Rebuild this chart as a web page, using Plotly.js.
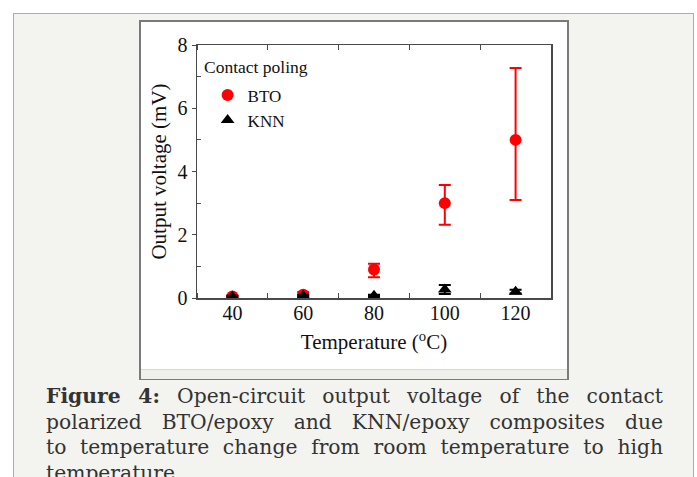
<!DOCTYPE html>
<html>
<head>
<meta charset="utf-8">
<script src="https://cdn.plot.ly/plotly-3.0.1.min.js"></script>
<style>
  html, body { margin: 0; padding: 0; background: #ffffff; }
  body { width: 697px; height: 477px; position: relative; overflow: hidden; }
  #frame { position: absolute; left: 13px; top: 13px; width: 681px; height: 480px;
           background: #f3f3ef; border-top: 1.5px solid #8db2e6; border-left: 1.5px solid #8db2e6;
           border-right: 1.5px solid #8db2e6; box-sizing: border-box; }
  #imgbox { position: absolute; left: 139px; top: 20px; width: 430px; height: 360px;
            background: #ffffff; border: 2px solid #7a7a7a; box-sizing: border-box; }
  #imgstrip { position: absolute; left: 141px; top: 369px; width: 426px; height: 9px;
              background: #efefeb; border-top: 1px solid #d8d8d4; }
  #chart { position: absolute; left: 0; top: 0; width: 697px; height: 477px; }
  #caption { position: absolute; left: 46px; top: 384px; width: 617px;
             font-family: "DejaVu Serif", serif; font-size: 20.3px; color: #333333; line-height: 25.7px; }
  #caption .ln span.j { display: block; text-align: justify; text-align-last: justify; white-space: normal; }
  #caption .last { text-align: left; }
</style>
</head>
<body>
<div id="frame"></div>
<div id="imgbox"></div>
<div id="imgstrip"></div>
<div id="chart"></div>
<div id="caption">
  <div class="ln"><span class="j"><b>Figure 4:</b> Open-circuit output voltage of the contact</span></div>
  <div class="ln"><span class="j">polarized BTO/epoxy and KNN/epoxy composites due</span></div>
  <div class="ln"><span class="j">to temperature change from room temperature to high</span></div>
  <div class="last">temperature.</div>
</div>
<script>
// Data
const temperatures = [40, 60, 80, 100, 120];
const btoVoltage   = [0.05, 0.10, 0.90, 3.00, 5.00];
const btoErrPlus   = [0.03, 0.09, 0.18, 0.57, 2.27];
const btoErrMinus  = [0.03, 0.10, 0.24, 0.68, 1.90];
const knnVoltage   = [0.05, 0.07, 0.07, 0.27, 0.20];
const knnErrPlus   = [0.02, 0.03, 0.03, 0.14, 0.06];
const knnErrMinus  = [0.02, 0.03, 0.03, 0.14, 0.06];
const xTickVals = [40, 60, 80, 100, 120];
const yTickVals = [0, 2, 4, 6, 8];

const serif = "Liberation Serif, Times New Roman, serif";
const axisColor = "#4a4a4a";

const traces = [
  {
    type: "scatter", mode: "markers", name: "BTO",
    x: temperatures, y: btoVoltage,
    marker: { symbol: "circle", size: 12, color: "#ff0000" },
    error_y: { type: "data", symmetric: false, array: btoErrPlus, arrayminus: btoErrMinus,
               color: "#ff0000", thickness: 2, width: 6 }
  },
  {
    type: "scatter", mode: "markers", name: "KNN",
    x: temperatures, y: knnVoltage,
    marker: { symbol: "triangle-up", size: 12, color: "#000000" },
    error_y: { type: "data", symmetric: false, array: knnErrPlus, arrayminus: knnErrMinus,
               color: "#000000", thickness: 2, width: 6 }
  }
];

const layout = {
  width: 697, height: 477,
  margin: { l: 197, r: 146, t: 45, b: 179, pad: 0 },
  paper_bgcolor: "rgba(0,0,0,0)",
  plot_bgcolor: "#ffffff",
  font: { family: serif, color: "#111111", size: 20 },
  showlegend: true,
  legend: {
    x: 0.03, y: 0.872, xanchor: "left", yanchor: "top",
    bgcolor: "rgba(0,0,0,0)", borderwidth: 0,
    font: { family: serif, size: 17, color: "#111111" },
    itemwidth: 30
  },
  xaxis: {
    range: [30, 130],
    tickvals: xTickVals, ticktext: xTickVals.map(String),
    ticks: "", showgrid: false, zeroline: false,
    showline: true, linecolor: axisColor, linewidth: 1.5, mirror: "ticks",
    minor: { ticks: "inside", ticklen: 5, tickcolor: axisColor, tickwidth: 1, tick0: 50, dtick: 20, showgrid: false },
    tickfont: { family: serif, size: 20, color: "#111111" },
    ticklabelstandoff: -4,
    title: { text: "Temperature (<sup>o</sup>C)", font: { family: serif, size: 21, color: "#111111" }, standoff: 12 },
    fixedrange: true
  },
  yaxis: {
    range: [0, 8],
    tickvals: yTickVals, ticktext: yTickVals.map(String),
    ticks: "outside", ticklen: 4, tickcolor: axisColor, tickwidth: 1,
    showgrid: false, zeroline: false,
    showline: true, linecolor: axisColor, linewidth: 1.5, mirror: true,
    minor: { ticks: "inside", ticklen: 4, tickcolor: axisColor, tickwidth: 1, tick0: 1, dtick: 2, showgrid: false },
    tickfont: { family: serif, size: 20, color: "#111111" },
    title: { text: "Output voltage (mV)", font: { family: serif, size: 21, color: "#111111" }, standoff: 5 },
    fixedrange: true
  },
  annotations: [
    {
      xref: "paper", yref: "paper", x: 0.015, y: 0.912, xanchor: "left", yanchor: "middle",
      text: "Contact poling", showarrow: false,
      font: { family: serif, size: 17.5, color: "#111111" }
    }
  ]
};

Plotly.newPlot("chart", traces, layout, { displayModeBar: false, staticPlot: true });
</script>
</body>
</html>
